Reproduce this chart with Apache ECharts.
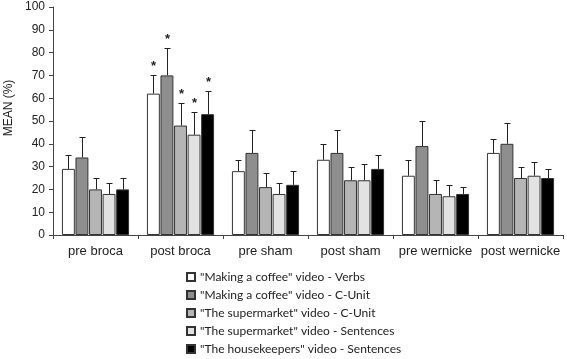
<!DOCTYPE html>
<html><head><meta charset="utf-8">
<script src="https://cdn.jsdelivr.net/npm/echarts@6/dist/echarts.min.js"></script>
<style>html,body{margin:0;padding:0;background:#fff}#c{width:567px;height:359px}</style>
</head><body><div id="c"></div>
<script>
var categories = ['pre broca','post broca','pre sham','post sham','pre wernicke','post wernicke'];
var seriesNames = ['"Making a coffee" video - Verbs','"Making a coffee" video - C-Unit','"The supermarket" video - C-Unit','"The supermarket" video - Sentences','"The housekeepers" video - Sentences'];
var coffeeVerbs = [29,62,28,33,26,36];
var coffeeVerbsErr = [6,8,5,7,7,6];
var coffeeCUnit = [34,70,36,36,39,40];
var coffeeCUnitErr = [9,12,10,10,11,9];
var superCUnit = [20,48,21,24,18,25];
var superCUnitErr = [5,10,6,6,6,5];
var superSent = [18,44,18,24,17,26];
var superSentErr = [5,10,5,7,5,6];
var houseSent = [20,53,22,29,18,25];
var houseSentErr = [5,10,6,6,3,4];
var stars = [0,1,0,0,0,0];
var yTicks = [0,10,20,30,40,50,60,70,80,90,100];

var values = [coffeeVerbs,coffeeCUnit,superCUnit,superSent,houseSent];
var errs = [coffeeVerbsErr,coffeeCUnitErr,superCUnitErr,superSentErr,houseSentErr];
var colors = ['#ffffff','#8e8e8e','#b5b5b5','#e2e2e2','#000000'];
var N = 5, CAT_GAP = 0.21, BAR_GAP = 0.05;

function makeRender(i){
  return function(params, api){
    var cat = api.value(0), v = api.value(1), e = api.value(2), s = api.value(3);
    var band = api.size([1,0])[0];
    var w = band*(1-CAT_GAP)/(N+(N-1)*BAR_GAP);
    var sum = N*w+(N-1)*w*BAR_GAP;
    var cx0 = api.coord([cat, 0])[0];
    var cx = cx0 - sum/2 + i*w*(1+BAR_GAP) + w/2;
    var yv = api.coord([cat, v])[1];
    var ye = api.coord([cat, v+e])[1];
    var st = {stroke:'#222', lineWidth:1};
    var x = Math.round(cx)+0.5;
    var children = [
      {type:'line', shape:{x1:x,y1:yv,x2:x,y2:Math.round(ye)+0.5}, style:st},
      {type:'line', shape:{x1:x-3,y1:Math.round(ye)+0.5,x2:x+3,y2:Math.round(ye)+0.5}, style:st}
    ];
    if (s) children.push({type:'text', style:{text:'*', x:x, y:ye-2, textAlign:'center', textVerticalAlign:'bottom', font:'bold 13px "Liberation Sans"', fill:'#222'}});
    return {type:'group', children:children};
  };
}

var series = [];
for (var i=0;i<N;i++){
  series.push({type:'bar', name:seriesNames[i], data:values[i], barCategoryGap:(CAT_GAP*100)+'%', barGap:(BAR_GAP*100)+'%',
    itemStyle:{color:colors[i], borderColor:'#333', borderWidth:1}, z:2});
}
for (var i=0;i<N;i++){
  series.push({type:'custom', name:'err'+i, renderItem:makeRender(i), z:3,
    data: categories.map(function(c,j){return [j, values[i][j], errs[i][j], stars[j]];}),
    encode:{x:0,y:1}, silent:true});
}

var chart = echarts.init(document.getElementById('c'), null, {renderer:'canvas'});
chart.setOption({
  animation:false,
  grid:{left:53,right:4,top:7,bottom:124},
  xAxis:{type:'category', data:categories,
    axisLine:{lineStyle:{color:'#444',width:1}},
    axisTick:{show:true, length:4, lineStyle:{color:'#444'}},
    axisLabel:{interval:0, color:'#222', fontSize:13, fontFamily:'Liberation Sans', margin:10}},
  yAxis:{type:'value', min:yTicks[0], max:yTicks[yTicks.length-1], interval:10,
    axisLine:{show:true, lineStyle:{color:'#444',width:1}},
    axisTick:{show:true, length:4, lineStyle:{color:'#444'}},
    splitLine:{show:false},
    axisLabel:{color:'#222', fontSize:12, fontFamily:'Liberation Sans', margin:8}},
  legend:{data:seriesNames, orient:'vertical', left:186, top:270, height:95, padding:0, itemWidth:8, itemHeight:8, itemGap:4,
    icon:'rect', textStyle:{fontFamily:'Lato', fontSize:12, color:'#222', lineHeight:14}},
  graphic:[{type:'text', x:9, y:108, rotation:Math.PI/2, style:{text:'MEAN (%)', textAlign:'center', textVerticalAlign:'middle', font:'12px "Liberation Sans"', fill:'#222'}}],
  series:series
});
</script></body></html>
